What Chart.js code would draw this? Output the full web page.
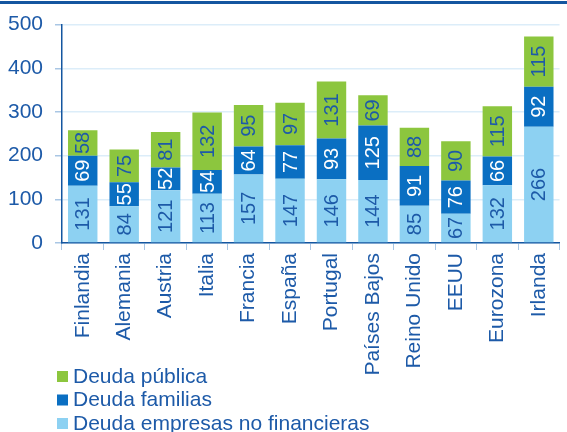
<!DOCTYPE html>
<html>
<head>
<meta charset="utf-8">
<script src="https://cdn.jsdelivr.net/npm/chart.js@4"></script>
<style>
  html, body { margin: 0; padding: 0; background: #fff; }
  #wrap { width: 567px; height: 432px; }
</style>
</head>
<body>
<div id="wrap"><canvas id="deuda-chart" width="567" height="432"></canvas></div>
<script>
// ── Datos ───────────────────────────────────────────
const PAISES = ['Finlandia', 'Alemania', 'Austria', 'Italia', 'Francia', 'España',
                'Portugal', 'Países Bajos', 'Reino Unido', 'EEUU', 'Eurozona', 'Irlanda'];
const deudaEmpresas = [131, 84, 121, 113, 157, 147, 146, 144, 85, 67, 132, 266];
const deudaFamilias = [69, 55, 52, 54, 64, 77, 93, 125, 91, 76, 66, 92];
const deudaPublica  = [58, 75, 81, 132, 95, 97, 131, 69, 88, 90, 115, 115];
const TICKS_Y       = [0, 100, 200, 300, 400, 500];

const AZUL_TXT = '#1d5aa8';
const FUENTE   = '"Liberation Sans", Arial, sans-serif';

// ── Etiquetas dentro de las barras (giradas) ────────
const etiquetasBarras = {
  id: 'etiquetasBarras',
  afterDatasetsDraw(chart) {
    const ctx = chart.ctx;
    chart.data.datasets.forEach((ds, i) => {
      chart.getDatasetMeta(i).data.forEach((bar, j) => {
        const yMid = (bar.y + bar.base) / 2;
        ctx.save();
        ctx.translate(bar.x, yMid);
        ctx.rotate(-Math.PI / 2);
        ctx.fillStyle = ds.labelColor;
        ctx.font = '20px ' + FUENTE;
        ctx.textAlign = 'center';
        ctx.textBaseline = 'middle';
        ctx.fillText(String(ds.data[j]), 0, 1);
        ctx.restore();
      });
    });
  }
};

// ── Leyenda vertical abajo a la izquierda ───────────
const leyendaAbajo = {
  id: 'leyendaAbajo',
  afterDraw(chart) {
    const ctx = chart.ctx;
    const items = chart.data.datasets.slice().reverse();
    ctx.save();
    ctx.font = '21px ' + FUENTE;
    ctx.textBaseline = 'middle';
    items.forEach((ds, k) => {
      const y = 376 + k * 23.5;
      ctx.fillStyle = ds.backgroundColor;
      ctx.fillRect(57, y - 5, 11, 11);
      ctx.fillStyle = AZUL_TXT;
      ctx.fillText(ds.label, 73, y + 1);
    });
    // línea del título (recortado)
    ctx.fillStyle = '#1456a0';
    ctx.fillRect(0, 1, 567, 3);
    ctx.restore();
  }
};

new Chart(document.getElementById('deuda-chart').getContext('2d'), {
  type: 'bar',
  data: {
    labels: PAISES,
    datasets: [
      { label: 'Deuda empresas no financieras', data: deudaEmpresas,
        backgroundColor: '#8dd1f2', labelColor: AZUL_TXT },
      { label: 'Deuda familias', data: deudaFamilias,
        backgroundColor: '#0a6fc2', labelColor: '#ffffff' },
      { label: 'Deuda pública', data: deudaPublica,
        backgroundColor: '#8cc63e', labelColor: AZUL_TXT },
    ].map(d => ({ ...d, borderWidth: 0, categoryPercentage: 1, barPercentage: 0.71 }))
  },
  plugins: [etiquetasBarras, leyendaAbajo],
  options: {
    responsive: false, animation: false,
    layout: { padding: { top: 12, right: 0, left: 0, bottom: 0 } },
    plugins: { legend: { display: false }, tooltip: { enabled: false } },
    scales: {
      x: {
        stacked: true,
        grid: { display: true, drawOnChartArea: false, offset: true, color: '#a9c6e4', tickLength: 7 },
        border: { color: '#1456a0', width: 1.5 },
        ticks: { color: AZUL_TXT, font: { size: 21, family: FUENTE }, minRotation: 90, maxRotation: 90, padding: 3 },
        afterFit: s => { s.height = 189; }
      },
      y: {
        stacked: true, min: 0, max: 500,
        afterBuildTicks: s => { s.ticks = TICKS_Y.map(v => ({ value: v })); },
        grid: { color: '#dcedf9', tickColor: '#a9c6e4', tickLength: 7, lineWidth: 1.5 },
        border: { color: '#1456a0', width: 1.5 },
        ticks: { color: AZUL_TXT, font: { size: 21, family: FUENTE }, padding: 12 },
        afterFit: s => { s.width = 62; }
      }
    }
  }
});
</script>
</body>
</html>
